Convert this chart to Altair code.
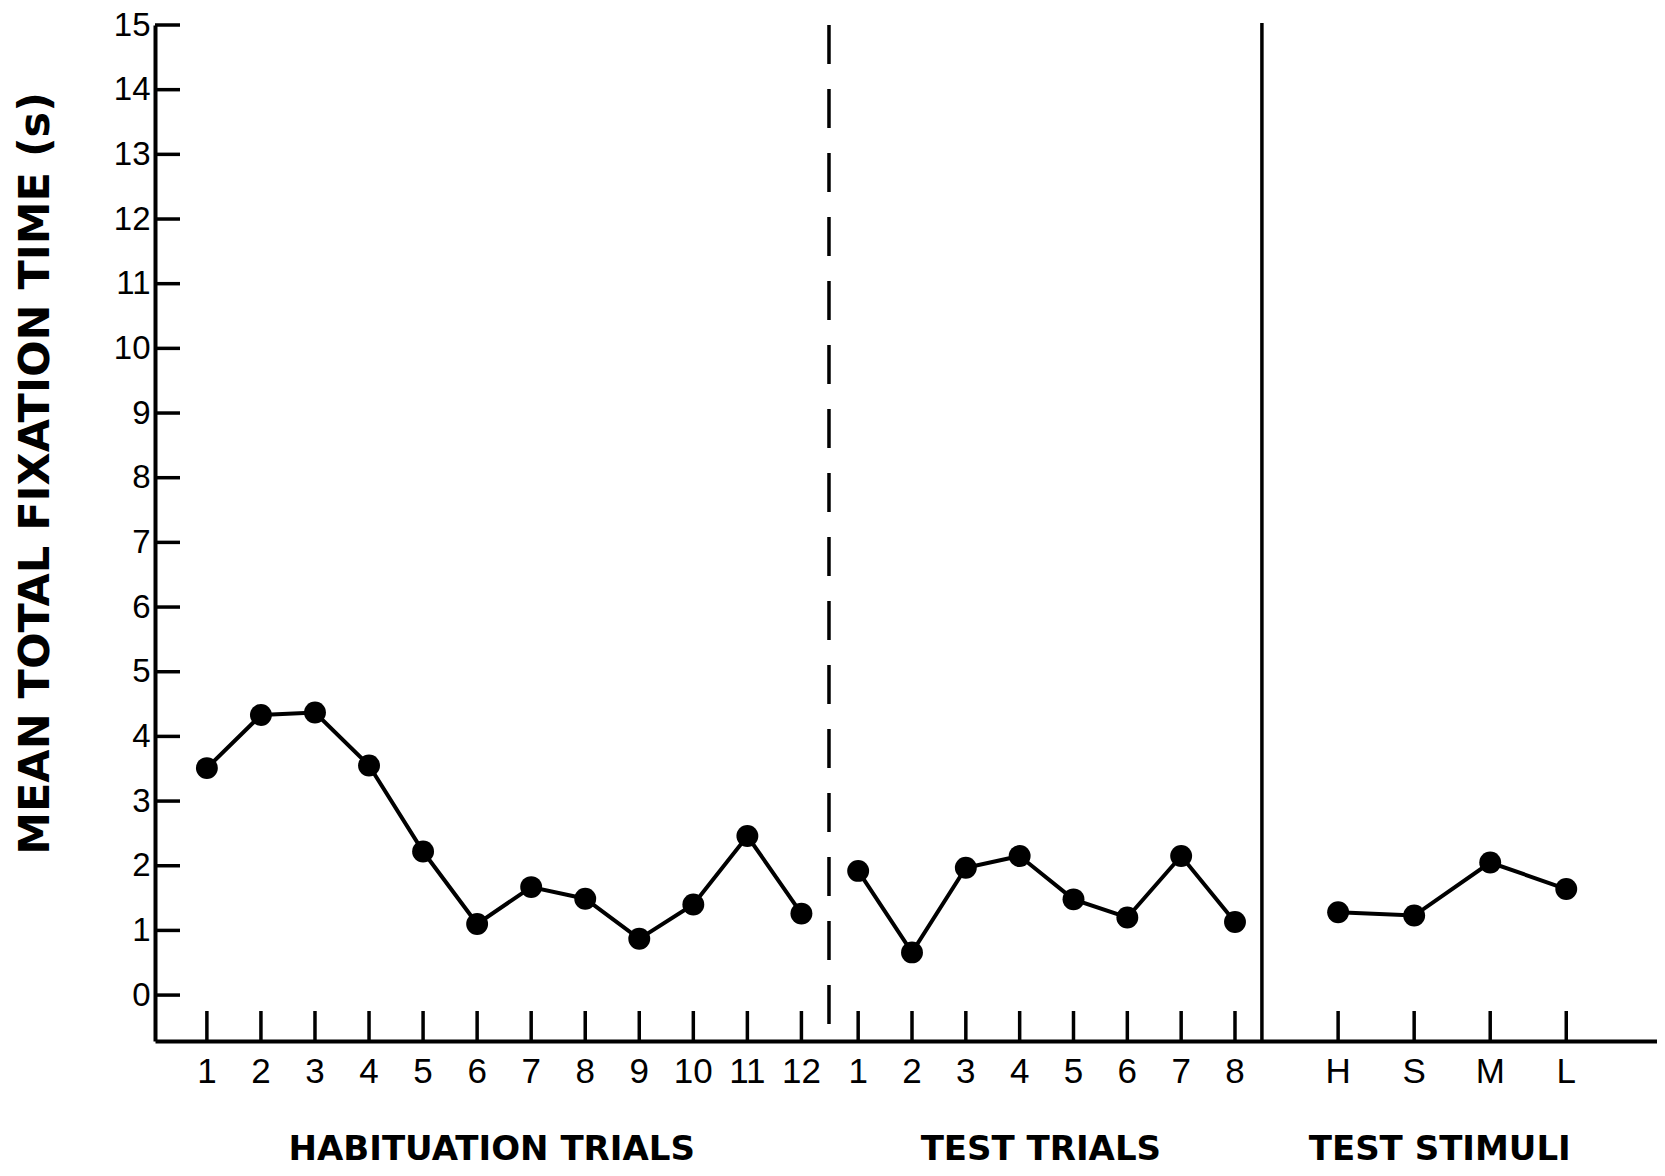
import altair as alt
import pandas as pd

# ---- data ----
hab_labels = [str(i) for i in range(1, 13)]
hab_values = [3.51, 4.33, 4.37, 3.55, 2.22, 1.10, 1.67, 1.49, 0.87, 1.40, 2.46, 1.26]

test_labels = [str(i) for i in range(1, 9)]
test_values = [1.92, 0.66, 1.97, 2.15, 1.48, 1.20, 2.15, 1.13]

stim_labels = ["H", "S", "M", "L"]
stim_values = [1.28, 1.23, 2.05, 1.64]

y_ticks = list(range(0, 16))
group_titles = ["HABITUATION TRIALS", "TEST TRIALS", "TEST STIMULI"]

# ---- layout (slot positions along the x axis) ----
hab_pos = [float(i) for i in range(len(hab_labels))]
test_pos = [12.05 + 0.996 * i for i in range(len(test_labels))]
stim_pos = [20.93 + 1.407 * i for i in range(len(stim_labels))]
dash_x = 11.51
solid_x = 19.52
title_pos = [5.27, 15.43, 22.81]

X_DOM = [-0.96, 26.83]
Y_DOM = [-0.71, 15]
W, H = 1502, 1016

rows = []
for g, labs, vals, pos in [
    (group_titles[0], hab_labels, hab_values, hab_pos),
    (group_titles[1], test_labels, test_values, test_pos),
    (group_titles[2], stim_labels, stim_values, stim_pos),
]:
    for l, v, p in zip(labs, vals, pos):
        rows.append({"group": g, "label": l, "value": v, "pos": p})
df = pd.DataFrame(rows)

titles_df = pd.DataFrame({"title": group_titles, "pos": title_pos})
yt_df = pd.DataFrame({"y": y_ticks})

xs = alt.Scale(domain=X_DOM, nice=False, zero=False)
ys = alt.Scale(domain=Y_DOM, nice=False, zero=False)

base = alt.Chart(df)

line = base.mark_line(color="black", strokeWidth=4).encode(
    x=alt.X("pos:Q", scale=xs,
            axis=alt.Axis(labels=False, ticks=False, tickSize=0, grid=False, title=None,
                          domainColor="black", domainWidth=4)),
    y=alt.Y("value:Q", scale=ys,
            axis=alt.Axis(values=y_ticks, format="d", ticks=False, tickSize=0, grid=False,
                          domainColor="black", domainWidth=4,
                          labelFont="Liberation Sans", labelFontSize=33,
                          labelColor="black", labelPadding=5,
                          title="MEAN TOTAL FIXATION TIME (s)",
                          titleFont="DejaVu Sans", titleFontWeight="bold",
                          titleFontSize=43, titleColor="black",
                          titleAngle=270, titleAlign="center",
                          titleBaseline="middle", titleX=-120, titleY=448)),
    detail="group:N",
)

pts = base.mark_circle(color="black", opacity=1, size=480).encode(
    x=alt.X("pos:Q", scale=xs),
    y=alt.Y("value:Q", scale=ys),
)

xticks = base.mark_rule(color="black", strokeWidth=3.5).encode(
    x=alt.X("pos:Q", scale=xs),
    y=alt.value(H - 30),
    y2=alt.value(H),
)

xlabels = base.mark_text(font="Liberation Sans", fontSize=35, color="black",
                         baseline="middle", align="center").encode(
    x=alt.X("pos:Q", scale=xs),
    y=alt.value(H + 31),
    text="label:N",
)

yticks = alt.Chart(yt_df).mark_rule(color="black", strokeWidth=3.5).encode(
    y=alt.Y("y:Q", scale=ys),
    x=alt.value(0),
    x2=alt.value(25),
)

dash = alt.Chart(pd.DataFrame({"x": [dash_x]})).mark_rule(
    color="black", strokeWidth=3.5, strokeDash=[39, 25]).encode(
    x=alt.X("x:Q", scale=xs),
    y=alt.value(0),
    y2=alt.value(H - 13),
)

solid = alt.Chart(pd.DataFrame({"x": [solid_x]})).mark_rule(
    color="black", strokeWidth=3.5).encode(
    x=alt.X("x:Q", scale=xs),
    y=alt.value(-2),
    y2=alt.value(H),
)

gtitles = alt.Chart(titles_df).mark_text(
    font="DejaVu Sans", fontWeight="bold", fontSize=34, color="black",
    baseline="middle", align="center").encode(
    x=alt.X("pos:Q", scale=xs),
    y=alt.value(H + 109),
    text="title:N",
)

chart = alt.layer(line, pts, xticks, xlabels, yticks, dash, solid, gtitles).properties(
    width=W, height=H,
    autosize=alt.AutoSizeParams(type="none"),
    padding={"left": 147, "top": 17, "right": 0, "bottom": 126},
    background="white",
).configure_view(stroke=None)

chart.save("out.html", embed_options={"renderer": "svg", "actions": False})
